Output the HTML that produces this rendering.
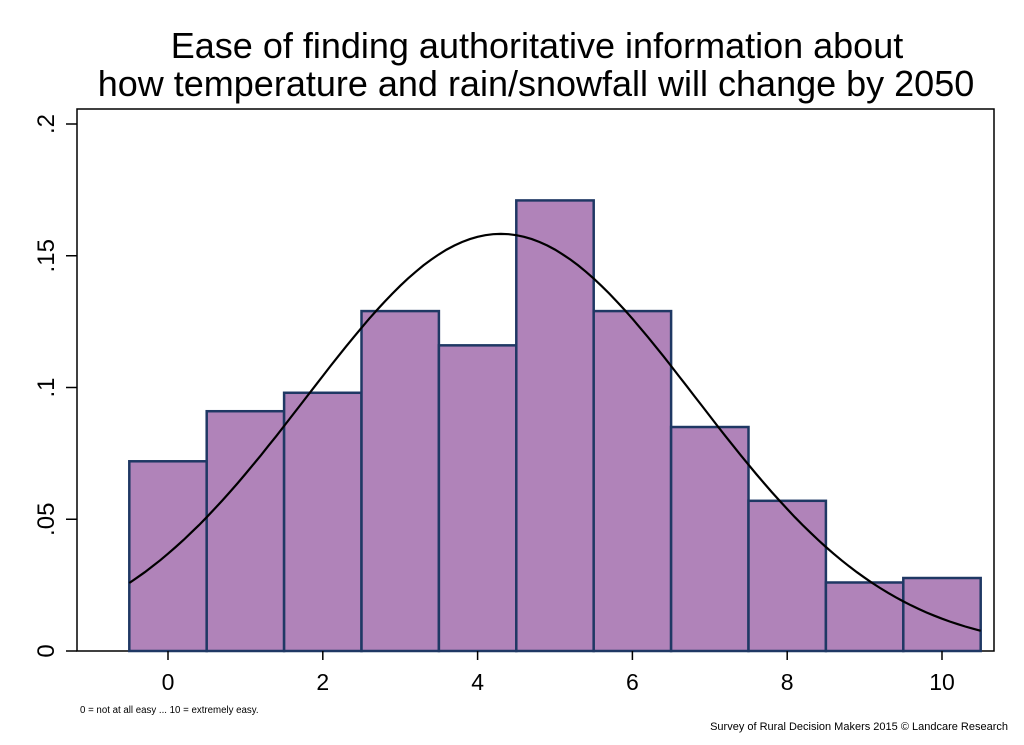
<!DOCTYPE html>
<html><head><meta charset="utf-8"><style>
body{margin:0;background:#fff;}
svg{display:block;font-family:"Liberation Sans",Arial,sans-serif;}
</style></head><body>
<svg id="chart" width="1024" height="745">
<text x="537" y="58" font-size="36" text-anchor="middle">Ease of finding authoritative information about</text>
<text x="536" y="96" font-size="36" text-anchor="middle">how temperature and rain/snowfall will change by 2050</text>
<rect x="77" y="109" width="917" height="542" fill="#fff" stroke="#000" stroke-width="1.5"/>
<g id="bars"></g>
<path id="curve" fill="none" stroke="#000" stroke-width="2.2"/>
<g id="axes"></g>
<text x="80" y="713" font-size="9.7">0 = not at all easy ... 10 = extremely easy.</text>
<text x="1008" y="730" font-size="11" text-anchor="end">Survey of Rural Decision Makers 2015 © Landcare Research</text>
</svg>
<script>
const categories=[0,1,2,3,4,5,6,7,8,9,10];
const densities=[0.072,0.091,0.098,0.129,0.116,0.171,0.129,0.085,0.057,0.026,0.0277];
const xTicks=[0,2,4,6,8,10];
const yTicks=[0,0.05,0.1,0.15,0.2];
const yTickLabels=["0",".05",".1",".15",".2"];
const curveMean=4.3;
const curveSD=2.52;
const NS="http://www.w3.org/2000/svg";
function xs(v){return 168+v*77.4;}
function ys(v){return 651-v*2635;}
function mk(t,a,p){const e=document.createElementNS(NS,t);for(const k in a)e.setAttribute(k,a[k]);p.appendChild(e);return e;}
const bars=document.getElementById('bars');
categories.forEach((c,i)=>{
 const r=mk('rect',{x:xs(c-0.5),y:ys(densities[i]),width:xs(c+0.5)-xs(c-0.5),height:ys(0)-ys(densities[i]),fill:'#b083b9',stroke:'#1f3864','stroke-width':2.5},bars);
 
 
});
let d='';
for(let k=0;k<=110;k++){const x=-0.5+k*0.1;const y=Math.exp(-0.5*Math.pow((x-curveMean)/curveSD,2))/(curveSD*Math.sqrt(2*Math.PI));d+=(k?'L':'M')+xs(x).toFixed(1)+','+ys(y).toFixed(1);}
document.getElementById('curve').setAttribute('d',d);
const ax=document.getElementById('axes');
xTicks.forEach(t=>{
 const l=mk('line',{x1:xs(t),x2:xs(t),y1:651,y2:660,stroke:'#000','stroke-width':1.5},ax);
 
 
 const tx=mk('text',{x:xs(t),y:690,'font-size':23,'text-anchor':'middle'},ax);
 tx.textContent=t;
 
 
});
yTicks.forEach((t,i)=>{
 const l=mk('line',{x1:66,x2:77,y1:ys(t),y2:ys(t),stroke:'#000','stroke-width':1.5},ax);
 
 
 const tx=mk('text',{x:0,y:0,'font-size':24,'text-anchor':'middle',transform:'translate(54,'+ys(t)+') rotate(-90)'},ax);
 tx.textContent=yTickLabels[i];
 
 
});
</script>
</body></html>
